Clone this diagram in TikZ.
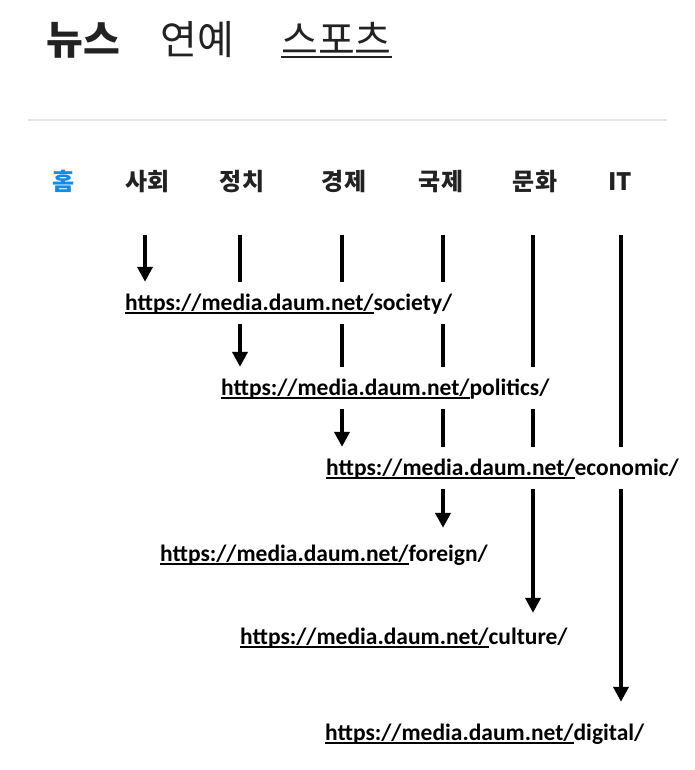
\documentclass[tikz,border=0pt]{standalone}
\usepackage{fontspec}
\newfontfamily\krfont{Noto Sans CJK KR}
\newfontfamily\urlfont{Carlito}
\usetikzlibrary{arrows.meta,backgrounds}
\definecolor{homeblue}{RGB}{18,140,230}
\definecolor{inkc}{RGB}{34,34,34}
\definecolor{rulegray}{RGB}{228,228,228}
\newcommand\ulx[3]{\setbox0\hbox{#3}\rlap{\vrule width\wd0 height #1 depth #2}\box0}
\begin{document}
\begin{tikzpicture}[x=1pt,y=-1pt,
  head/.style={font=\krfont\fontsize{40}{40}\selectfont, text=inkc, anchor=base, inner sep=0},
  tab/.style={font=\krfont\bfseries\fontsize{24}{24}\selectfont, text=inkc, anchor=base, inner sep=0},
  urlbox/.style={font=\urlfont\bfseries\fontsize{23.5}{23.5}\selectfont, anchor=base west, inner sep=0,
                 text height=28pt, text depth=14pt, fill=white},
  conn/.style={line width=4pt, -{Triangle[width=15pt,length=15pt]}}]
\useasboundingbox (0,0) rectangle (695,770);
% headings
\node[head, font=\krfont\bfseries\fontsize{40}{40}\selectfont] (news) at (83,55) {뉴스};
\node[head] (ent) at (197.5,55) {연예};
\node[head] (sports) at (336.5,55) {\ulx{-1.5pt}{3pt}{스포츠}};
\draw[rulegray, line width=1.5pt] (28,120) -- (667,120);
% tabs
\node[tab, text=homeblue] (home) at (63.5,190) {홈};
\node[tab] (t1) at (147.5,190) {사회};
\node[tab] (t2) at (242,190) {정치};
\node[tab] (t3) at (344,190) {경제};
\node[tab] (t4) at (441,190) {국제};
\node[tab] (t5) at (535,190) {문화};
\node[tab] (t6) at (620,190) {IT};
% urls
\node[urlbox] (u1) at (125,310) {\ulx{-2pt}{4pt}{https://media.daum.net/}society/};
\node[urlbox] (u2) at (221,395) {\ulx{-2pt}{4pt}{https://media.daum.net/}politics/};
\node[urlbox] (u3) at (326,475) {\ulx{-2pt}{4pt}{https://media.daum.net/}economic/};
\node[urlbox, text height=33pt] (u4) at (160,561) {\ulx{-2pt}{4pt}{https://media.daum.net/}foreign/};
\node[urlbox, text height=31pt] (u5) at (240,644) {\ulx{-2pt}{4pt}{https://media.daum.net/}culture/};
\node[urlbox, text height=38pt] (u6) at (325,740) {\ulx{-2pt}{4pt}{https://media.daum.net/}digital/};
% column starts
\coordinate (c1) at (145,235);
\coordinate (c2) at (240,235);
\coordinate (c3) at (342,235);
\coordinate (c4) at (443,235);
\coordinate (c5) at (533,235);
\coordinate (c6) at (621,235);
\begin{pgfonlayer}{background}
\fill[white] (0,0) rectangle (695,770);
\draw[conn] (c1) -- (c1 |- u1.north);
\draw[conn] (c2) -- (c2 |- u2.north);
\draw[conn] (c3) -- (c3 |- u3.north);
\draw[conn] (c4) -- (c4 |- u4.north);
\draw[conn] (c5) -- (c5 |- u5.north);
\draw[conn] (c6) -- (c6 |- u6.north);
\end{pgfonlayer}
\end{tikzpicture}
\end{document}
